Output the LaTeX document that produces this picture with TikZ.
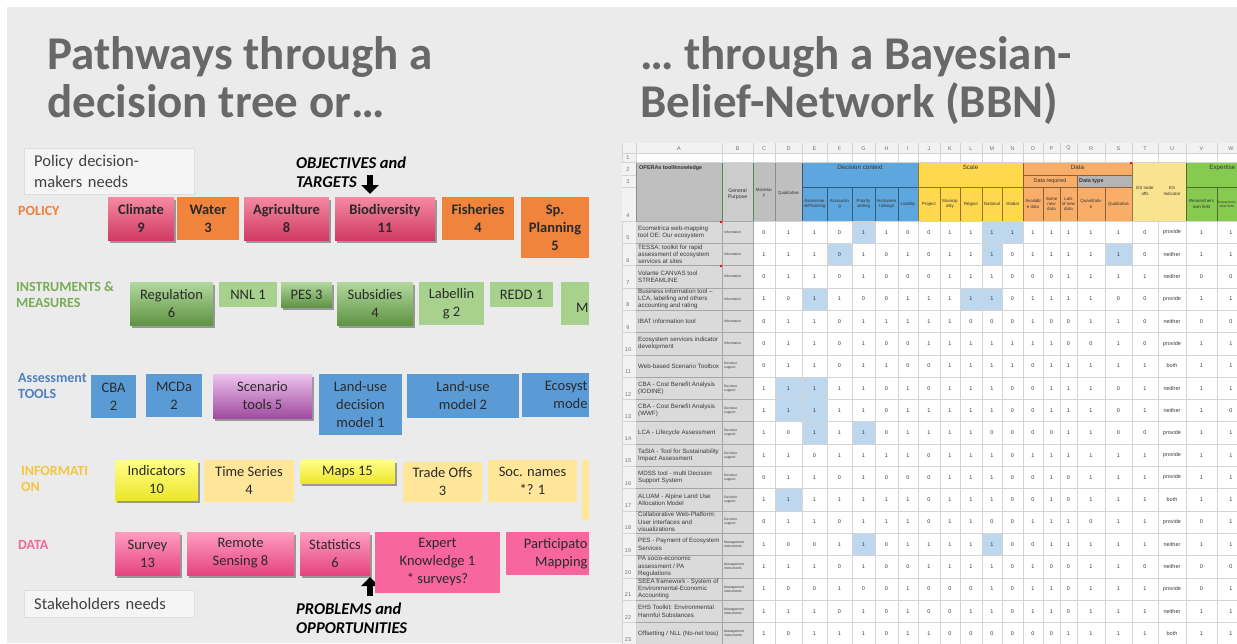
\documentclass[tikz,border=0pt]{standalone}
\usepackage{fontspec}
\setmainfont{Carlito}
\newfontfamily\sheetfont{Liberation Sans}
\usetikzlibrary{arrows.meta,shadows}

% slide colours
\definecolor{slidebg}{HTML}{EBEBEB}
\definecolor{titlegray}{HTML}{686868}
\definecolor{needsfill}{HTML}{F5F5F5}
\definecolor{needsline}{HTML}{DDDDDD}
\definecolor{tiletext}{HTML}{2A2A2A}
\definecolor{polorange}{HTML}{F0843C}
\definecolor{polpinkA}{HTML}{F48AA3}
\definecolor{polpinkB}{HTML}{D23A63}
\definecolor{insdarkA}{HTML}{B3D89E}
\definecolor{insdarkB}{HTML}{5E9443}
\definecolor{inslight}{HTML}{A9D18E}
\definecolor{toolblue}{HTML}{5B9BD5}
\definecolor{toolpurpA}{HTML}{EDC3ED}
\definecolor{toolpurpB}{HTML}{A04CA0}
\definecolor{infoyelA}{HTML}{FFFF8A}
\definecolor{infoyelB}{HTML}{EDE62A}
\definecolor{infopale}{HTML}{FFE699}
\definecolor{datapinkA}{HTML}{FF9DC0}
\definecolor{datapinkB}{HTML}{E5447E}
\definecolor{dataflat}{HTML}{F7669C}
\definecolor{lblpolicy}{HTML}{F07F3C}
\definecolor{lblins}{HTML}{78AC55}
\definecolor{lbltools}{HTML}{4F81BD}
\definecolor{lblinfo}{HTML}{F4C63D}
\definecolor{lbldata}{HTML}{F0689C}
% sheet colours
\definecolor{sheetgrid}{HTML}{D4D4D4}
\definecolor{sheethead}{HTML}{F2F2F2}
\definecolor{sheetgray}{HTML}{DADADA}
\definecolor{hdrgray}{HTML}{BFBFBF}
\definecolor{selgreen}{HTML}{4F8A5B}
\definecolor{decblue}{HTML}{5DA7DE}
\definecolor{scaleyel}{HTML}{FFD84D}
\definecolor{dataorange}{HTML}{F8AE68}
\definecolor{typegray}{HTML}{B4B4B4}
\definecolor{espale}{HTML}{F9E38E}
\definecolor{expgreen}{HTML}{86CB4F}
\definecolor{hilite}{HTML}{BDD7EE}
\definecolor{celltext}{HTML}{3A3A3A}

\newcommand\tilesize{\fontsize{14.5}{18}\selectfont}

\begin{document}
\begin{tikzpicture}[
    x=1pt, y=-1pt,
    slidetitle/.style={anchor=base west, inner sep=0pt, text=titlegray,
      font=\bfseries\fontsize{47}{49}\selectfont},
    tile/.style={rectangle, inner sep=0pt, align=center, text=tiletext, font=\tilesize},
    flat/.style={tile, fill=#1},
    raised/.style 2 args={tile, top color=#1, bottom color=#2,
      drop shadow={shadow xshift=1.5pt, shadow yshift=-2.5pt, opacity=.35, fill=black}},
    heavy/.style={font=\bfseries\tilesize},
    sz/.style 2 args={minimum width=#1pt, minimum height=#2pt},
    rowlabel/.style={anchor=west, align=left, inner sep=0pt, text=#1,
      font=\bfseries\fontsize{14}{16}\selectfont},
    needs/.style={anchor=north west, fill=needsfill, draw=needsline, inner xsep=10pt,
      inner ysep=0pt, text width=150pt, align=left, text=black!75,
      font=\fontsize{16.5}{21}\selectfont},
    remark/.style={anchor=west, align=left, inner sep=0pt,
      font=\bfseries\itshape\fontsize{16.5}{19}\selectfont},
    fatarrow/.style={line width=6pt, -{Triangle[width=17pt,length=9pt]}},
    % sheet
    colletter/.style={inner sep=0pt, text=black!55, font=\sheetfont\fontsize{5.5}{6}\selectfont},
    cellval/.style={inner sep=0pt, text=celltext, font=\sheetfont\fontsize{5.5}{6}\selectfont},
    toolname/.style={anchor=west, align=left, inner sep=0pt, text=celltext,
      font=\sheetfont\fontsize{6.2}{7.3}\selectfont},
    purpose/.style={align=left, inner sep=0pt, text=celltext,
      font=\sheetfont\fontsize{3.4}{4}\selectfont},
    grouphead/.style={inner sep=0pt, text=black!80, font=\sheetfont\fontsize{6.2}{7}\selectfont},
    subhead/.style={inner sep=0pt, align=center, text=black!80,
      font=\sheetfont\fontsize{4.4}{5.2}\selectfont},
    hdrline/.style={line width=.6pt, draw=#1}]

  \useasboundingbox (0,0) rectangle (1237,643);
  \fill[white] (0,0) rectangle (1237,643);
  \fill[slidebg] (7,7) rectangle (1237,643);

  % Titles
  \node[slidetitle] (titleL1) at (47,69) {Pathways through a};
  \node[slidetitle] (titleL2) at (47,117) {decision tree or…};
  \node[slidetitle] (titleR1) at (640,69) {… through a Bayesian-};
  \node[slidetitle] (titleR2) at (640,117) {Belief-Network (BBN)};

  % Needs and remarks
  \node[needs, minimum height=46pt] (polneeds) at (24,148) {Policy decision-\\makers needs};
  \node[needs, minimum height=27pt] (stakeneeds) at (24,590) {Stakeholders needs};
  \node[remark] (objectives) at (296,172) {OBJECTIVES and\\TARGETS};
  \node[remark] (problems) at (296,618) {PROBLEMS and\\OPPORTUNITIES};

  \coordinate (objtail) at (370,175);
  \coordinate (objtip) at (370,194);
  \draw[fatarrow] (objtail) -- (objtip);
  \coordinate (probtail) at (370,596);
  \coordinate (probtip) at (370,577);
  \draw[fatarrow] (probtail) -- (probtip);

  % Row labels
  \node[rowlabel=lblpolicy] (lpolicy) at (18,211) {POLICY};
  \node[rowlabel=lblins] (lins) at (16,295) {INSTRUMENTS \&\\MEASURES};
  \node[rowlabel=lbltools] (ltools) at (18,386) {Assessment\\TOOLS};
  \node[rowlabel=lblinfo] (linfo) at (21,479) {INFORMATI\\ON};
  \node[rowlabel=lbldata] (ldata) at (18,545) {DATA};

  % Policy
  \node[raised={polpinkA}{polpinkB}, heavy, sz={66}{43}] (climate) at (141,218.5) {Climate\\9};
  \node[flat=polorange, heavy, sz={62}{43}] (water) at (208,218.5) {Water\\3};
  \node[raised={polpinkA}{polpinkB}, heavy, sz={85}{43}] (agri) at (286.5,218.5) {Agriculture\\8};
  \node[raised={polpinkA}{polpinkB}, heavy, sz={100}{43}] (biodiv) at (385,218.5) {Biodiversity\\11};
  \node[flat=polorange, heavy, sz={72}{43}] (fisheries) at (478,218.5) {Fisheries\\4};
  \node[flat=polorange, heavy, sz={68}{61}] (spplan) at (555,227.5) {Sp.\\Planning\\5};

  % Instruments
  \node[raised={insdarkA}{insdarkB}, sz={83}{43}] (regulation) at (171.5,303.5) {Regulation\\6};
  \node[flat=inslight, sz={58}{25}] (nnl) at (248,294.5) {NNL 1};
  \node[raised={insdarkA}{insdarkB}, sz={51}{25}] (pes) at (306.5,294.5) {PES 3};
  \node[raised={insdarkA}{insdarkB}, sz={76}{43}] (subsidies) at (375,303.5) {Subsidies\\4};
  \node[flat=inslight, sz={65}{43}] (labelling) at (451.5,303.5) {Labellin\\g 2};
  \node[flat=inslight, sz={63}{25}] (redd) at (521.5,294.5) {REDD 1};
  \node[flat=inslight, sz={28}{43}, text width=27pt, align=right] (mbox) at (575,303.5) {\mbox{}\\M};

  % Tools
  \node[flat=toolblue, sz={45}{43}] (cba) at (113.5,396.5) {CBA\\2};
  \node[flat=toolblue, sz={56}{43}] (mcda) at (174,395.5) {MCDa\\2};
  \node[raised={toolpurpA}{toolpurpB}, sz={99}{44}] (scenario) at (262.5,396) {Scenario\\tools 5};
  \node[flat=toolblue, sz={83}{61}] (landdec) at (360.5,404.5) {Land-use\\decision\\model 1};
  \node[flat=toolblue, sz={112}{44}] (landmod) at (463,396) {Land-use\\model 2};
  \node[flat=toolblue, sz={67}{44}, text width=64pt, align=right] (ecosys) at (555.5,395) {Ecosyst\\mode};

  % Information
  \node[raised={infoyelA}{infoyelB}, sz={83}{40}] (indicators) at (156.5,480) {Indicators\\10};
  \node[flat=infopale, sz={90}{42}] (timeseries) at (249,481) {Time Series\\4};
  \node[raised={infoyelA}{infoyelB}, sz={95}{23}] (maps) at (347.5,471.5) {Maps 15};
  \node[flat=infopale, sz={79}{40}] (tradeoffs) at (442.5,482) {Trade Offs\\3};
  \node[flat=infopale, sz={89}{42}] (socnames) at (532.5,481) {Soc. names\\*? 1};
  \node[flat=infopale, sz={7}{60}] (infostrip) at (585.5,490) {};

  % Data
  \node[raised={datapinkA}{datapinkB}, sz={65}{43}] (survey) at (147.5,553.5) {Survey\\13};
  \node[raised={datapinkA}{datapinkB}, sz={107}{43}] (remote) at (240.5,553.5) {Remote\\Sensing 8};
  \node[raised={datapinkA}{datapinkB}, sz={70}{43}] (statistics) at (335,553.5) {Statistics\\6};
  \node[flat=dataflat, sz={125}{61}] (expert) at (437.5,562.5) {Expert\\Knowledge 1\\* surveys?};
  \node[flat=dataflat, sz={83}{43}, text width=80pt, align=right] (particip) at (547.5,553.5) {Participato\\Mapping};

  % Spreadsheet
  \def\colx{{622,636,722,753,775,802,827,852,875,898,918,940,960,982,1002,1023,1043,1060,1077,1105,1132,1158,1186,1217,1245}}
  \begin{scope}
    \clip (622,143) rectangle (1237,643);
    \fill[white] (622,143) rectangle (1245,650);
    \fill[sheethead] (622,143) rectangle (1245,153);
    \fill[sheethead] (622,153) rectangle (636,650);

    % header blocks
    \fill[hdrgray] (636,162) rectangle (722,221);
    \fill[hdrgray!80!white] (722,162) rectangle (753,221);
    \fill[hdrgray] (753,162) rectangle (802,221);
    \fill[decblue] (802,162) rectangle (918,221);
    \fill[scaleyel] (918,162) rectangle (1023,221);
    \fill[dataorange] (1023,162) rectangle (1132,221);
    \fill[typegray] (1077,175) rectangle (1132,187);
    \fill[espale] (1132,162) rectangle (1186,221);
    \fill[expgreen] (1186,162) rectangle (1245,221);

    \draw[hdrline=black!45] (636,162) rectangle (722,221) (753,162) rectangle (802,221)
      (775,162) -- (775,221);
    \draw[hdrline=decblue!55!black] (802,162) rectangle (918,221) (802,187) -- (918,187);
    \foreach \xe in {827,852,875,898} \draw[hdrline=decblue!55!black] (\xe,187) -- (\xe,221);
    \draw[hdrline=scaleyel!55!black] (918,162) rectangle (1023,221) (918,187) -- (1023,187);
    \foreach \xe in {940,960,982,1002} \draw[hdrline=scaleyel!55!black] (\xe,187) -- (\xe,221);
    \draw[hdrline=dataorange!55!black] (1023,162) rectangle (1132,221)
      (1023,175) -- (1132,175) (1023,187) -- (1132,187) (1077,175) -- (1077,221);
    \foreach \xe in {1043,1060,1105} \draw[hdrline=dataorange!55!black] (\xe,187) -- (\xe,221);
    \draw[hdrline=espale!55!black] (1132,162) rectangle (1186,221);
    \draw[hdrline=expgreen!55!black] (1186,162) rectangle (1245,221) (1186,187) -- (1245,187)
      (1217,187) -- (1217,221);
    \draw[selgreen, line width=1pt] (722,162) rectangle (753,221);

    % tool and purpose columns
    \fill[sheetgray] (636,221) rectangle (753,650);

    % highlighted cells
    \foreach \r/\i in {5/7,5/13,5/14,6/6,6/13,6/19,8/5,8/12,8/13,12/4,12/5,13/4,13/5,
                      14/5,14/7,17/4,19/7,19/13} {
      \pgfmathsetmacro\xl{\colx[\i]}
      \pgfmathtruncatemacro\j{\i+1}
      \pgfmathsetmacro\xr{\colx[\j]}
      \pgfmathsetmacro\yt{221+(\r-5)*22.3}
      \fill[hilite] (\xl,\yt) rectangle (\xr,\yt+22.3);
    }

    % grid
    \foreach \i in {0,...,24} {
      \pgfmathsetmacro\xe{\colx[\i]}
      \draw[sheetgrid, line width=.5pt] (\xe,143) -- (\xe,162) (\xe,221) -- (\xe,650);
    }
    \foreach \ye in {153,162,175,187} \draw[sheetgrid, line width=.5pt] (622,\ye) -- (636,\ye);
    \draw[sheetgrid, line width=.5pt] (622,153) -- (1245,153) (636,162) -- (1245,162);
    \foreach \r in {0,...,19} {
      \pgfmathsetmacro\ye{221+\r*22.3}
      \draw[sheetgrid, line width=.5pt] (622,\ye) -- (1245,\ye);
      \draw[black!35, line width=.5pt] (636,\ye) -- (753,\ye);
    }
    \draw[black!35, line width=.5pt] (722,221) -- (722,650) (753,221) -- (753,650);

    % red comment marks
    \fill[red] (721,222) circle[radius=1.4pt] (721,266) circle[radius=1.4pt]
      (1131,163) circle[radius=1.4pt];

    % column letters
    \foreach \L [count=\i from 1] in {A,B,C,D,E,F,G,H,I,J,K,L,M,N,O,P,Q,R,S,T,U,V,W} {
      \pgfmathsetmacro\xl{\colx[\i]}
      \pgfmathtruncatemacro\j{\i+1}
      \pgfmathsetmacro\xr{\colx[\j]}
      \node[colletter] (col\L) at ({(\xl+\xr)/2},148.5) {\L};
    }

    % row numbers
    \foreach \r/\yn in {1/158,2/170,3/182,4/216} \node[colletter] (row\r) at (628,\yn) {\r};
    \foreach \r in {5,...,23} {
      \pgfmathsetmacro\yn{221+(\r-5)*22.3+17}
      \node[colletter] (row\r) at (628,\yn) {\r};
    }

    % header texts
    \node[grouphead, anchor=north west, font=\sheetfont\bfseries\fontsize{5.4}{6}\selectfont]
      (hA) at (639,165) {OPERAs tool/knowledge};
    \node[subhead, font=\sheetfont\fontsize{5.2}{6}\selectfont] (hB) at (737.5,194) {General\\Purpose};
    \node[subhead] (hC) at (764,193) {Monetar\\y};
    \node[subhead] (hD) at (788.5,193) {Qualitative};
    \node[grouphead] (hDec) at (860,167.5) {Decision context};
    \node[grouphead] (hScale) at (970.5,167.5) {Scale};
    \node[grouphead] (hData) at (1077.5,167.5) {Data};
    \node[subhead, font=\sheetfont\fontsize{5.4}{6}\selectfont] (hReq) at (1050,181) {Data required};
    \node[subhead, anchor=west, font=\sheetfont\bfseries\fontsize{5.4}{6}\selectfont]
      (hType) at (1079,181) {Data type};
    \node[subhead] (hTrade) at (1145,191) {ES trade\\offs};
    \node[subhead] (hInd) at (1172,191) {ES\\Indicator};
    \node[grouphead, anchor=east] (hExp) at (1235.5,167.5) {Expertise};
    \foreach \i/\t in {5/{Assessme\\nt/Planning},6/{Accountin\\g},7/{Priority\\setting},
        8/{Instrumen\\t design},9/{Liability},10/{Project},11/{Municip\\ality},12/{Region},
        13/{National},14/{Global},15/{Availabl\\e data},16/{Some\\new\\data},
        17/{Lots\\of new\\data},18/{Quantitativ\\e},19/{Qualitative},
        22/{Researchers\\own field}} {
      \pgfmathsetmacro\xl{\colx[\i]}
      \pgfmathtruncatemacro\j{\i+1}
      \pgfmathsetmacro\xr{\colx[\j]}
      \node[subhead] (sub\i) at ({(\xl+\xr)/2},204) {\t};
    }
    \node[subhead, font=\sheetfont\fontsize{3.3}{4.2}\selectfont] (sub23) at (1226.5,204)
      {Researchers\\other field};

    % tool names and purposes
    \foreach \r/\tool/\purp in {
        5/{Ecometrica web-mapping\\tool OE: Our ecosystem}/Information,
        6/{TESSA: toolkit for rapid\\assessment of ecosystem\\services at sites}/Information,
        7/{Volante CANVAS tool\\STREAMLINE}/Information,
        8/{Business information tool –\\LCA, labelling and others\\accounting and rating}/Information,
        9/{IBAT information tool}/Information,
        10/{Ecosystem services indicator\\development}/Information,
        11/{Web-based Scenario Toolbox}/{Decision\\support},
        12/{CBA - Cost Benefit Analysis\\(IODINE)}/{Decision\\support},
        13/{CBA - Cost Benefit Analysis\\(WWF)}/{Decision\\support},
        14/{LCA - Lifecycle Assessment}/{Decision\\support},
        15/{TaSIA - Tool for Sustainability\\Impact Assessment}/{Decision\\support},
        16/{MDSS tool - multi Decision\\Support System}/{Decision\\support},
        17/{ALUAM - Alpine Land Use\\Allocation Model}/{Decision\\support},
        18/{Collaborative Web-Platform:\\User interfaces and\\visualizations}/{Decision\\support},
        19/{PES - Payment of Ecosystem\\Services}/{Management\\instruments},
        20/{PA socio-economic\\assessment / PA\\Regulations}/{Management\\instruments},
        21/{SEEA framework - System of\\Environmental-Economic\\Accounting}/{Management\\instruments},
        22/{EHS Toolkit: Environmental\\Harmful Substances}/{Management\\instruments},
        23/{Offsetting / NLL (No-net loss)}/{Management\\instruments}} {
      \pgfmathsetmacro\yc{221+(\r-5)*22.3+11.15}
      \node[toolname] (tool\r) at (638,\yc) {\tool};
      \node[purpose, anchor=west] (purp\r) at (724,\yc) {\purp};
    }

    % cell values, columns C to W
    \foreach \r/\vals in {
        5/{0,1,1,0,1,1,0,0,1,1,1,1,1,1,1,1,1,0,provide,1,1},
        6/{1,1,1,0,1,0,1,0,1,1,1,0,1,1,1,1,1,0,neither,1,1},
        7/{0,1,1,0,1,0,0,0,1,1,1,0,0,0,1,1,1,1,neither,0,0},
        8/{1,0,1,1,0,0,1,1,1,1,1,0,1,1,1,1,0,0,provide,1,1},
        9/{0,1,1,0,1,1,1,1,1,0,0,0,1,0,0,1,1,0,neither,0,0},
        10/{0,1,1,0,1,0,0,1,1,1,1,1,1,1,0,0,1,0,provide,1,1},
        11/{0,1,1,0,1,1,0,0,1,1,1,1,0,1,1,1,1,1,both,1,1},
        12/{1,1,1,1,1,0,1,0,1,1,1,0,0,1,1,1,0,1,neither,1,1},
        13/{1,1,1,1,1,0,1,1,1,1,1,0,0,1,1,1,0,1,neither,1,0},
        14/{1,0,1,1,1,0,1,1,1,1,0,0,0,0,1,1,0,0,provide,1,1},
        15/{1,1,0,1,1,1,1,0,1,1,1,0,1,1,1,1,1,1,provide,1,1},
        16/{0,1,1,0,1,0,0,0,1,1,1,0,0,1,0,1,1,1,provide,1,1},
        17/{1,1,1,1,1,1,1,0,1,1,1,0,0,1,0,1,1,1,both,1,1},
        18/{0,1,1,0,1,1,1,0,1,1,0,0,1,1,1,0,1,1,provide,0,1},
        19/{1,0,0,1,1,0,1,1,1,1,1,0,0,1,1,1,1,1,neither,1,1},
        20/{1,1,1,0,1,0,0,1,1,1,1,0,1,0,0,1,1,0,neither,0,0},
        21/{1,0,0,1,0,0,1,0,0,0,1,0,1,1,0,1,1,1,provide,0,1},
        22/{1,1,1,0,1,0,1,0,0,1,1,0,1,1,0,1,1,1,neither,1,1},
        23/{1,0,1,1,1,0,1,1,0,0,0,0,0,0,1,1,1,1,both,1,1}} {
      \pgfmathsetmacro\yc{221+(\r-5)*22.3+11.15}
      \foreach \v [count=\i from 3] in \vals {
        \pgfmathsetmacro\xl{\colx[\i]}
        \pgfmathtruncatemacro\j{\i+1}
        \pgfmathsetmacro\xr{\colx[\j]}
        \node[cellval] (v\r-\i) at ({(\xl+\xr)/2},\yc) {\v};
      }
    }
  \end{scope}
\end{tikzpicture}
\end{document}
